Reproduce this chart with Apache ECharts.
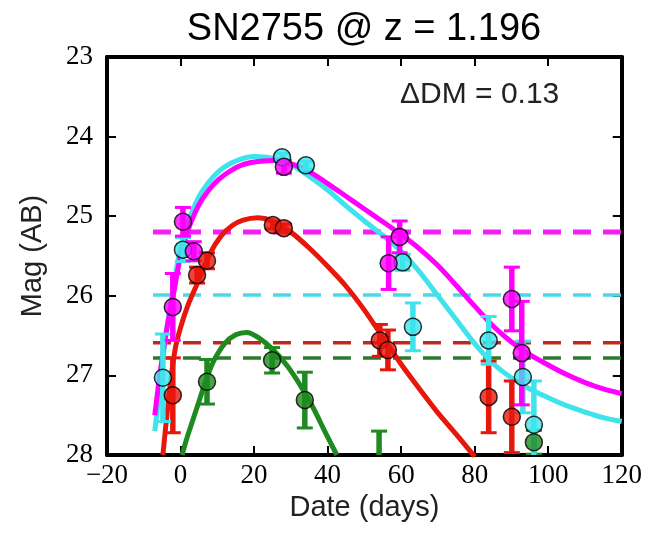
<!DOCTYPE html>
<html>
<head>
<meta charset="utf-8">
<script src="https://cdn.jsdelivr.net/npm/echarts@6/dist/echarts.min.js"></script>
<style>
  html, body { margin: 0; padding: 0; background: #fff; }
  #chart { width: 645px; height: 533px; }
</style>
</head>
<body>
<div id="chart"></div>
<script>
// tick labels
const xTicks = [-20, 0, 20, 40, 60, 80, 100, 120];
const yTicks = [23, 24, 25, 26, 27, 28];

// observed points: [day, mag, error]
const magentaPts = [[-2.1, 26.14, 0.42], [0.65, 25.07, 0.18], [3.6, 25.44, 0.12], [28.1, 24.38, 0.08],
  [56.6, 25.59, 0.33], [59.6, 25.26, 0.2], [90.1, 26.04, 0.4], [92.8, 26.72, 0.65]];
const cyanPts = [[-4.8, 27.03, 0.55], [0.65, 25.42, 0.15], [27.6, 24.26, 0.05], [34.1, 24.36, 0.05],
  [60.4, 25.58, 0.1], [63.2, 26.39, 0.3], [83.8, 26.56, 0.3], [93.1, 27.02, 0.45], [96.1, 27.62, 0.55]];
const redPts = [[-2.1, 27.25, 0.47], [4.5, 25.74, 0.1], [7.2, 25.56, 0.1], [25.1, 25.11, 0.05],
  [28.1, 25.15, 0.05], [54.2, 26.56, 0.2], [56.4, 26.68, 0.25], [83.8, 27.27, 0.45], [90.1, 27.52, 0.45]];
const greenPts = [[7.2, 27.08, 0.28], [24.9, 26.81, 0.16], [33.8, 27.31, 0.35], [54.0, 28.3, 0.6], [96.1, 27.84, 0.15]];

// model light curves: [day, mag]
const magentaCurve = [[-7, 27.5], [-5.5, 26.95], [-3.5, 26.35], [-2, 26.0], [0, 25.5], [2, 25.18], [4, 24.95],
  [6, 24.78], [9, 24.6], [12, 24.48], [16, 24.37], [20, 24.32], [25, 24.3], [30, 24.34], [35, 24.44],
  [40, 24.59], [45, 24.75], [50, 24.91], [55, 25.07], [60, 25.23], [65, 25.41], [70, 25.62], [75, 25.87],
  [80, 26.13], [85, 26.38], [90, 26.58], [95, 26.74], [100, 26.87], [105, 26.99], [110, 27.09], [115, 27.17], [120, 27.23]];
const cyanCurve = [[-7, 27.7], [-5.5, 27.1], [-4, 26.5], [-2, 25.9], [0, 25.4], [2, 25.08], [4, 24.85],
  [6, 24.68], [9, 24.5], [12, 24.38], [16, 24.29], [20, 24.25], [25, 24.27], [30, 24.35], [35, 24.5],
  [40, 24.67], [45, 24.87], [50, 25.06], [55, 25.24], [60, 25.44], [65, 25.7], [70, 26.0], [75, 26.3],
  [80, 26.6], [85, 26.85], [90, 27.03], [95, 27.17], [100, 27.28], [105, 27.38], [110, 27.46], [115, 27.53], [120, 27.58]];
const redCurve = [[-4.8, 28.0], [-3, 27.2], [-1.5, 26.68], [0, 26.4], [2, 26.12], [5, 25.8], [8, 25.47],
  [11, 25.25], [14, 25.12], [17, 25.05], [21, 25.02], [25, 25.06], [30, 25.2], [35, 25.4], [40, 25.63],
  [45, 25.88], [50, 26.18], [55, 26.52], [60, 26.86], [65, 27.17], [70, 27.47], [75, 27.74], [80, 28.02]];
const greenCurve = [[0.4, 28.0], [2, 27.75], [4.5, 27.4], [7, 27.05], [9, 26.82], [12, 26.6], [15, 26.49],
  [18, 26.46], [21, 26.52], [25, 26.67], [29, 26.88], [32.5, 27.12], [36, 27.4], [39, 27.68], [42.5, 28.0]];

// limiting magnitudes (dashed)
const limitDays = [-7.5, 120];
const limits = { magenta: 25.2, cyan: 25.99, red: 26.59, green: 26.78 };

const colors = { magenta: '#f0f', cyan: '#3fe3ec', red: '#e8170c', green: '#1f8a1f' };
const dashColors = { magenta: '#f51ef5', cyan: '#4dd8e6', red: '#c0281e', green: '#2c7a2c' };

const chart = echarts.init(document.getElementById('chart'));

function errRender(params, api) {
  const x = api.value(0), y = api.value(1), e = api.value(2);
  const top = api.coord([x, y - e]);
  const bot = api.coord([x, y + e]);
  const c = api.visual('color');
  const hw = 8;
  return {
    type: 'group',
    children: [
      { type: 'line', shape: { x1: top[0], y1: top[1], x2: bot[0], y2: bot[1] }, style: { stroke: c, lineWidth: 5.5 } },
      { type: 'line', shape: { x1: top[0] - hw, y1: top[1], x2: top[0] + hw, y2: top[1] }, style: { stroke: c, lineWidth: 3 } },
      { type: 'line', shape: { x1: bot[0] - hw, y1: bot[1], x2: bot[0] + hw, y2: bot[1] }, style: { stroke: c, lineWidth: 3 } }
    ]
  };
}

const series = [];
['magenta', 'cyan', 'red', 'green'].forEach(k => {
  series.push({
    type: 'line', silent: true, symbol: 'none', z: 1,
    data: limitDays.map(d => [d, limits[k]]),
    lineStyle: { color: dashColors[k], width: k === 'magenta' ? 5 : 3.5, type: [18, 12] }
  });
});
const curves = { green: greenCurve, red: redCurve, cyan: cyanCurve, magenta: magentaCurve };
const pts = { green: greenPts, red: redPts, cyan: cyanPts, magenta: magentaPts };
['green', 'red', 'cyan', 'magenta'].forEach(k => {
  series.push({
    type: 'line', silent: true, symbol: 'none', smooth: 0.3, z: 2,
    data: curves[k],
    lineStyle: { color: colors[k], width: 5 }
  });
});
['green', 'red', 'cyan', 'magenta'].forEach(k => {
  series.push({
    type: 'custom', clip: true, z: 3, silent: true,
    itemStyle: { color: colors[k] },
    renderItem: errRender,
    data: pts[k]
  });
  series.push({
    type: 'scatter', z: 4, silent: true,
    symbol: 'circle', symbolSize: 17,
    itemStyle: { color: colors[k], borderColor: '#000', borderWidth: 1.5 },
    data: pts[k].map(p => [p[0], p[1]])
  });
});

const tickFont = { fontFamily: 'Liberation Serif', fontSize: 27, color: '#000' };
const frameLine = { show: true, onZero: false, lineStyle: { color: '#000', width: 4 } };
const innerTick = { show: true, inside: true, length: 9, lineStyle: { color: '#000', width: 2 } };
const nameFont = { fontFamily: 'Liberation Sans', fontSize: 29, color: '#222' };

chart.setOption({
  animation: false,
  backgroundColor: '#fff',
  grid: { left: 107, top: 57, right: 23, bottom: 78 },
  xAxis: [{
    type: 'value', min: xTicks[0], max: xTicks[xTicks.length - 1], interval: 20,
    position: 'bottom',
    name: 'Date (days)', nameLocation: 'middle', nameGap: 38, nameTextStyle: nameFont,
    axisLine: frameLine, axisTick: innerTick, splitLine: { show: false },
    axisLabel: Object.assign({ margin: 7, formatter: v => String(v).replace('-', '\u2212') }, tickFont)
  }, {
    type: 'value', min: xTicks[0], max: xTicks[xTicks.length - 1], interval: 20,
    position: 'top', axisLine: frameLine, axisTick: innerTick,
    axisLabel: { show: false }, splitLine: { show: false }
  }],
  yAxis: [{
    type: 'value', inverse: true, min: yTicks[0], max: yTicks[yTicks.length - 1], interval: 1,
    position: 'left',
    name: 'Mag (AB)', nameLocation: 'middle', nameGap: 60, nameTextStyle: nameFont,
    axisLine: frameLine, axisTick: innerTick, splitLine: { show: false },
    axisLabel: Object.assign({ margin: 14 }, tickFont)
  }, {
    type: 'value', inverse: true, min: yTicks[0], max: yTicks[yTicks.length - 1], interval: 1,
    position: 'right', axisLine: frameLine, axisTick: innerTick,
    axisLabel: { show: false }, splitLine: { show: false }
  }],
  graphic: [{
    type: 'text', x: 364, y: 11,
    style: { text: 'SN2755 @ z = 1.196', textAlign: 'center', fontFamily: 'Liberation Sans', fontSize: 38, fill: '#000' }
  }, {
    type: 'text', x: 400, y: 80,
    style: { text: '\u0394DM = 0.13', fontFamily: 'Liberation Sans', fontSize: 30, fill: '#222' }
  }],
  series: series
});
</script>
</body>
</html>
